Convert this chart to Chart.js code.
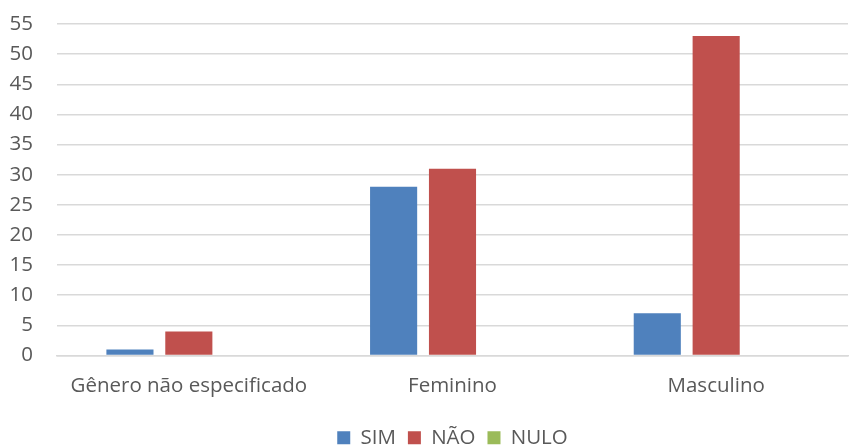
<!DOCTYPE html>
<html>
<head>
<meta charset="utf-8">
<script src="https://cdn.jsdelivr.net/npm/chart.js@4"></script>
<style>
  html, body { margin: 0; padding: 0; background: #fff; }
  #wrap { width: 849px; height: 447px; position: relative; }
</style>
</head>
<body>
<div id="wrap"><canvas id="c"></canvas></div>
<script>
const categories = ["Gênero não especificado", "Feminino", "Masculino"];
const simValues = [1, 28, 7];
const naoValues = [4, 31, 53];
const nuloValues = [0, 0, 0];
const yTicks = [0, 5, 10, 15, 20, 25, 30, 35, 40, 45, 50, 55];

const textColor = "#595959";
const fontFamily = "'Open Sans', 'Liberation Sans', sans-serif";

new Chart(document.getElementById("c"), {
  type: "bar",
  data: {
    labels: categories,
    datasets: [
      { label: "SIM", data: simValues, backgroundColor: "#4F81BD" },
      { label: "NÃO", data: naoValues, backgroundColor: "#C0504D" },
      { label: "NULO", data: nuloValues, backgroundColor: "#9BBB59" }
    ]
  },
  options: {
    responsive: true,
    maintainAspectRatio: false,
    animation: false,
    // the legend sits close to the bottom edge, so let its box run past it
    layout: { padding: { left: 0, right: 1, top: 24, bottom: -11 } },
    datasets: { bar: { categoryPercentage: 0.67, barPercentage: 0.8 } },
    plugins: {
      legend: {
        position: "bottom",
        fullSize: false,
        labels: {
          color: textColor,
          font: { family: fontFamily, size: 20.5 },
          boxWidth: 13,
          boxHeight: 13,
          padding: 12
        }
      },
      tooltip: { enabled: false }
    },
    scales: {
      x: {
        grid: { display: false },
        border: { color: "#D9D9D9", width: 1.5 },
        ticks: { color: textColor, font: { family: fontFamily, size: 20.5 }, padding: 10 },
        afterFit: (scale) => { scale.height = 60; }
      },
      y: {
        min: 0,
        max: 55,
        afterBuildTicks: (axis) => { axis.ticks = yTicks.map(v => ({ value: v })); },
        grid: { color: "#D9D9D9", lineWidth: 1.5, drawTicks: false },
        border: { display: false },
        ticks: { color: textColor, font: { family: fontFamily, size: 20.5 }, padding: 24 },
        afterFit: (scale) => {
          scale.width = 57;
          scale.paddingTop = 0;
          scale.paddingBottom = 0;
        }
      }
    }
  }
});
</script>
</body>
</html>
